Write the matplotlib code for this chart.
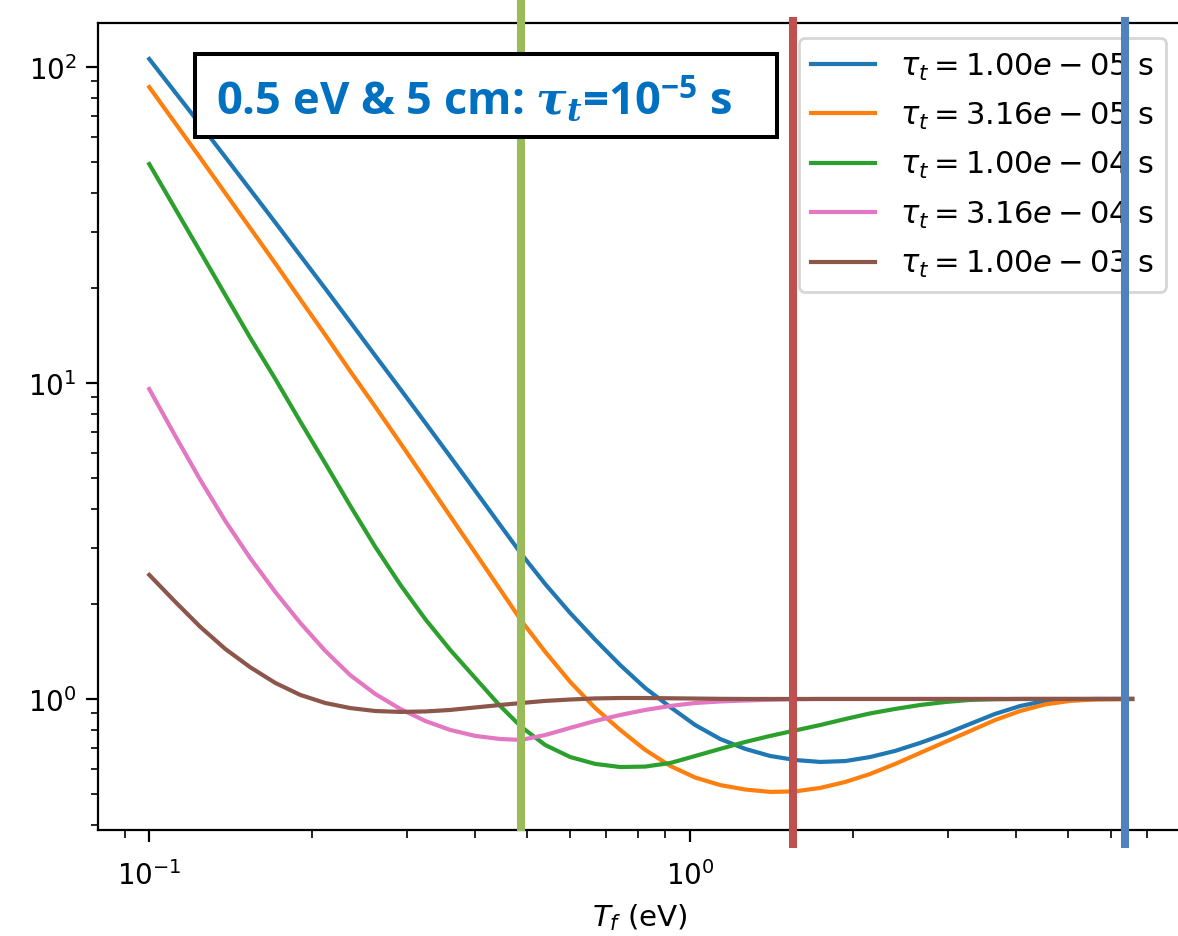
import matplotlib
matplotlib.use('Agg')
import matplotlib.pyplot as plt
from matplotlib.patches import Rectangle

# data
Tf = [0.1, 0.1117, 0.1243, 0.1382, 0.1537, 0.171, 0.1902, 0.2115, 0.2352, 0.2617,
      0.2911, 0.3237, 0.36, 0.4005, 0.4454, 0.4871, 0.5395, 0.6001, 0.6674, 0.7424,
      0.8257, 0.9184, 1.0215, 1.136, 1.264, 1.406, 1.563, 1.739, 1.934, 2.151,
      2.393, 2.661, 2.96, 3.293, 3.662, 4.074, 4.531, 5.04, 5.606, 6.561]

taus = [1.00e-05, 3.16e-05, 1.00e-04, 3.16e-04, 1.00e-03]

r_blue = [106.0, 83.1, 65.7, 51.9, 40.9, 32.2, 25.3, 19.9, 15.6, 12.2,
          9.57, 7.49, 5.85, 4.56, 3.55, 2.88, 2.31, 1.87, 1.54, 1.28,
          1.083, 0.943, 0.827, 0.747, 0.695, 0.660, 0.641, 0.632, 0.636, 0.655,
          0.685, 0.726, 0.775, 0.834, 0.897, 0.950, 0.986, 0.996, 1.0, 1.0]
r_orange = [86.4, 66.4, 51.5, 39.9, 30.9, 23.9, 18.4, 14.2, 10.9, 8.41,
            6.46, 4.95, 3.79, 2.90, 2.22, 1.77, 1.41, 1.132, 0.936, 0.798,
            0.690, 0.614, 0.564, 0.534, 0.517, 0.508, 0.510, 0.523, 0.546, 0.579,
            0.623, 0.675, 0.731, 0.792, 0.858, 0.916, 0.961, 0.986, 0.996, 1.0]
r_green = [49.3, 35.6, 26.0, 19.0, 13.9, 10.3, 7.55, 5.57, 4.09, 3.03,
           2.30, 1.79, 1.43, 1.165, 0.950, 0.816, 0.715, 0.655, 0.623, 0.609,
           0.611, 0.627, 0.660, 0.695, 0.731, 0.764, 0.795, 0.827, 0.864, 0.900,
           0.930, 0.957, 0.978, 0.993, 0.998, 1.0, 1.0, 1.0, 1.0, 1.0]
r_pink = [9.57, 6.80, 4.93, 3.66, 2.79, 2.18, 1.74, 1.42, 1.19, 1.037,
          0.930, 0.852, 0.798, 0.764, 0.747, 0.742, 0.769, 0.810, 0.852, 0.890,
          0.923, 0.950, 0.971, 0.982, 0.989, 0.994, 0.998, 1.0, 1.0, 1.0,
          1.0, 1.0, 1.0, 1.0, 1.0, 1.0, 1.0, 1.0, 1.0, 1.0]
r_brown = [2.47, 2.03, 1.69, 1.44, 1.26, 1.124, 1.030, 0.971, 0.936, 0.916,
           0.910, 0.913, 0.923, 0.940, 0.957, 0.971, 0.986, 0.996, 1.004, 1.007,
           1.007, 1.005, 1.003, 1.001, 1.0, 1.0, 1.0, 1.0, 1.0, 1.0,
           1.0, 1.0, 1.0, 1.0, 1.0, 1.0, 1.0, 1.0, 1.0, 1.0]

series = [r_blue, r_orange, r_green, r_pink, r_brown]
colors = ['#1f77b4', '#ff7f0e', '#2ca02c', '#e377c2', '#8c564b']

# marker lines drawn on top of the plot (x in eV)
vlines_x = [0.487, 1.55, 6.37]
vlines_c = ['#9BBB59', '#C0504D', '#4F81BD']
vlines_span = [(0.004, 1.03), (-0.017, 1.003), (-0.017, 1.003)]

fig = plt.figure(figsize=(5.89, 4.685), dpi=200)
ax = fig.add_axes([0.0832, 0.1131, 0.9194, 0.8613])

for tau, r, c in zip(taus, series, colors):
    ax.plot(Tf, r, color=c, label=f'$\\tau_t = {tau:.2e}$ s')

ax.set_xscale('log')
ax.set_yscale('log')
ax.set_xlim(0.0804, 8.08)
ax.set_ylim(0.3848, 137.8)
ax.tick_params(which='major', length=4.2)
ax.tick_params(which='minor', length=2.7)
ax.tick_params(axis='x', which='both', pad=6.5)
ax.set_xlabel('$T_f$ (eV)', fontsize=10.6)
ax.spines['right'].set_visible(False)
ax.legend(loc='upper right', fontsize=11, labelspacing=0.6, handlelength=2.1)

for xv, c, (y0, y1) in zip(vlines_x, vlines_c, vlines_span):
    ax.axvline(xv, ymin=y0, ymax=y1, color=c, lw=2.9, clip_on=False, zorder=10)

# boxed note
fig.add_artist(Rectangle((195 / 1178, 1 - 138 / 937), 582 / 1178, 83 / 937,
                         transform=fig.transFigure, facecolor='white',
                         edgecolor='black', lw=1.45, zorder=20))
plt.rcParams['mathtext.bf'] = 'Open Sans:bold'
plt.rcParams['mathtext.bfit'] = 'DejaVu Serif:italic:bold'
fig.text(216 / 1178, 1 - 115 / 937,
         r'0.5 eV & 5 cm: $\mathbfit{\tau_t}$=10$^{\mathbf{-5}}$ s',
         family='Open Sans', weight='bold', fontsize=16.3, color='#0070C0',
         math_fontfamily='custom', va='baseline', zorder=21)

fig.savefig('out.png', dpi=200)
